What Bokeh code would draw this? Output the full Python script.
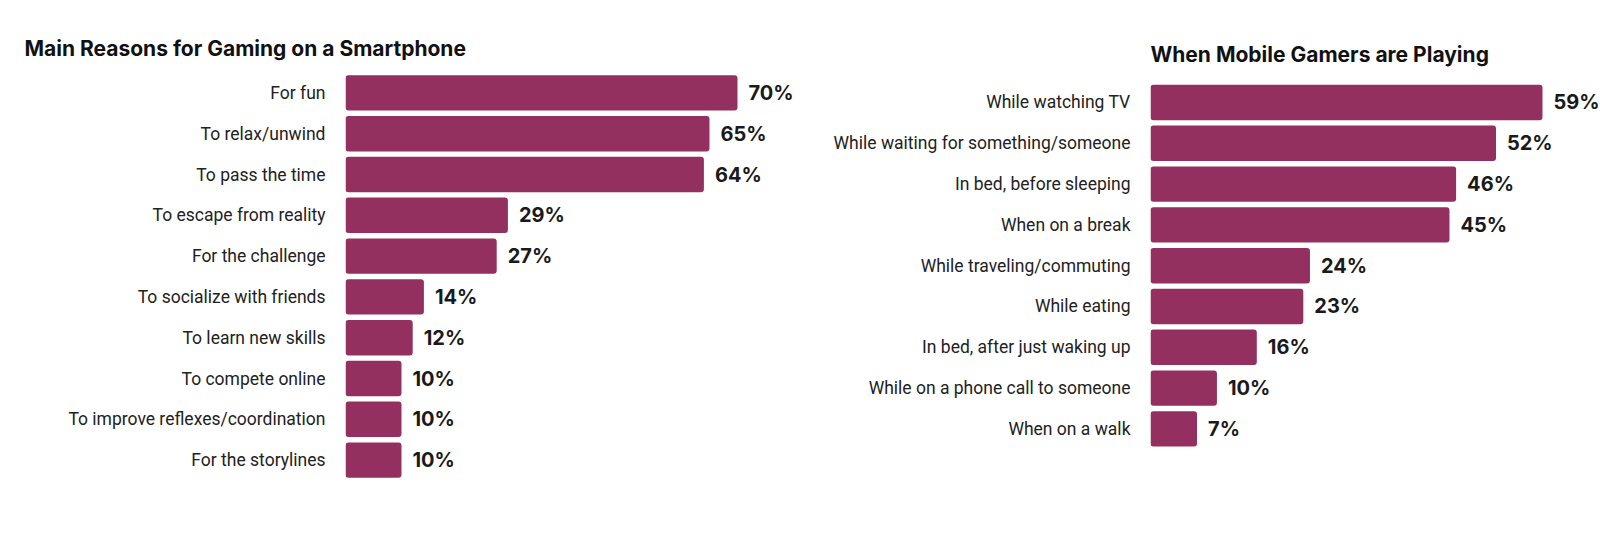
from bokeh.plotting import figure
from bokeh.layouts import row
from bokeh.models import ColumnDataSource, Range1d, Title, FixedTicker
from bokeh.core.properties import value
from bokeh.embed import file_html
from bokeh.resources import INLINE

# ---- data ----
reasons = ["For fun", "To relax/unwind", "To pass the time", "To escape from reality",
           "For the challenge", "To socialize with friends", "To learn new skills",
           "To compete online", "To improve reflexes/coordination", "For the storylines"]
reasons_pct = [70, 65, 64, 29, 27, 14, 12, 10, 10, 10]

when = ["While watching TV", "While waiting for something/someone", "In bed, before sleeping",
        "When on a break", "While traveling/commuting", "While eating",
        "In bed, after just waking up", "While on a phone call to someone", "When on a walk"]
when_pct = [59, 52, 46, 45, 24, 23, 16, 10, 7]

title_left = "Main Reasons for Gaming on a Smartphone"
title_right = "When Mobile Gamers are Playing"

BAR = "#93305f"
TITLE_FONT = "Inter"
CAT_FONT = "Roboto"
VAL_FONT = "Inter"


def make_chart(cats, vals, title, width, left, xmax, y_top, title_offset, title_standoff):
    idx = list(range(len(cats)))
    src = ColumnDataSource(dict(y=idx, val=vals, lbl=[f"{v}%" for v in vals]))
    p = figure(width=width, height=545, output_backend="svg", toolbar_location=None,
               y_range=Range1d(y_top + 10, y_top),
               x_range=Range1d(0, xmax),
               min_border_left=left, min_border_right=0,
               min_border_top=72, min_border_bottom=65)
    p.hbar(y="y", right="val", left=0, height=0.868, source=src,
           fill_color=BAR, line_color=None, border_radius=3)
    p.text(x="val", y="y", text="lbl", source=src, x_offset=11,
           text_baseline="middle", text_align="left",
           text_font=value(VAL_FONT), text_font_style="bold",
           text_font_size="20px", text_color="#1a1a1a")
    p.xaxis.visible = False
    p.xgrid.visible = False
    p.ygrid.visible = False
    p.outline_line_color = None
    ax = p.yaxis[0]
    ax.ticker = FixedTicker(ticks=idx)
    ax.major_label_overrides = {i: c for i, c in zip(idx, cats)}
    ax.axis_line_color = None
    ax.major_tick_line_color = None
    ax.minor_tick_line_color = None
    ax.major_tick_out = 0
    ax.major_label_standoff = 20
    ax.major_label_text_font = CAT_FONT
    ax.major_label_text_font_size = "17.5px"
    ax.major_label_text_color = "#222222"
    t = Title(text=title, align="left", offset=title_offset, standoff=title_standoff,
              text_font=TITLE_FONT, text_font_style="bold", text_font_size="21px",
              text_color="#111111")
    p.add_layout(t, "above")
    return p


p1 = make_chart(reasons, reasons_pct, title_left, 800, 345, 455 / 5.6, -0.5, -321, 23)
p2 = make_chart(when, when_pct, title_right, 800, 350, 450 / 6.644, -0.735, 0, 11)

layout = row(p1, p2)
open("out.html", "w").write(file_html(layout, INLINE))
